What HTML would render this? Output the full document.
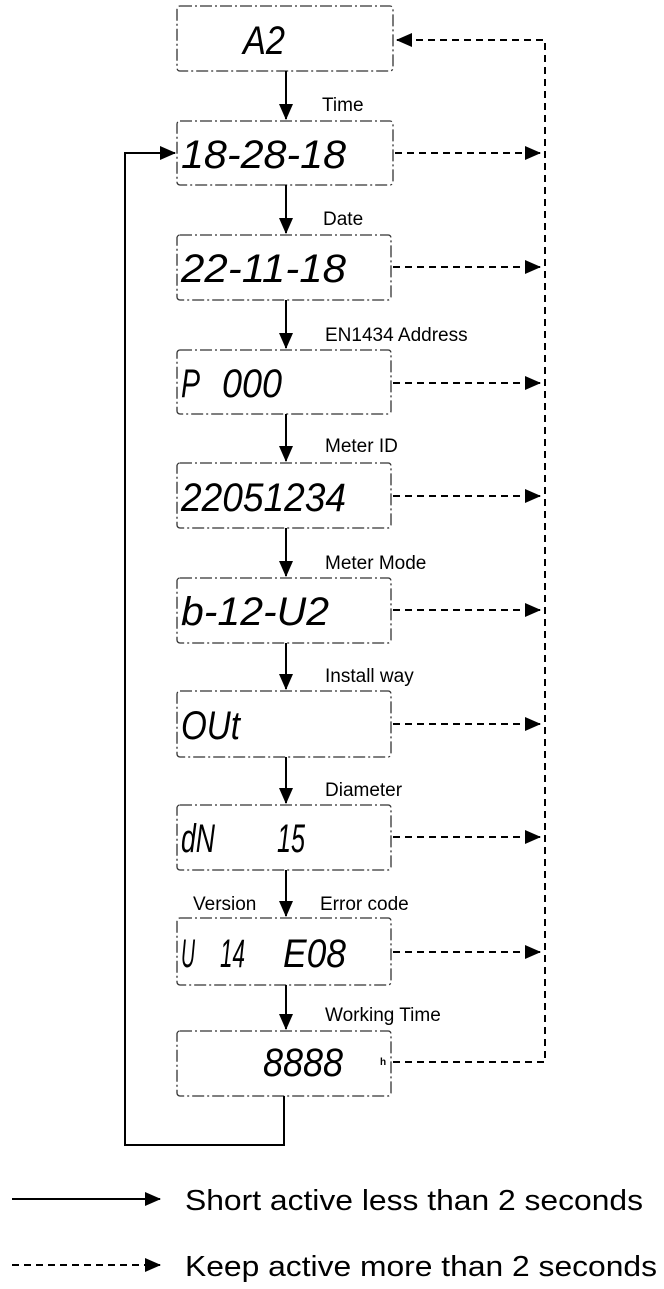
<!DOCTYPE html>
<html><head><style>
body{margin:0;background:#fff;width:664px;height:1289px;overflow:hidden;font-family:"Liberation Sans",Arial,sans-serif}
svg{position:absolute;left:0;top:0}
.lcd{font-family:"Liberation Sans Narrow","Liberation Sans",sans-serif;font-style:italic;font-size:40px;fill:#000}
.lbl{font-size:19px;fill:#000}
</style></head><body>
<svg width="664" height="1289" viewBox="0 0 664 1289" xmlns="http://www.w3.org/2000/svg">
<defs>
<marker id="b" markerWidth="16" markerHeight="14" refX="15" refY="7" orient="auto" markerUnits="userSpaceOnUse"><path d="M0,0 L16,7 L0,14z" fill="#000"/></marker>
</defs>
<g fill="none" stroke="#333" stroke-width="1.3" stroke-dasharray="12,3,2,3">
<rect x="177" y="6" width="216" height="65" rx="3"/>
<rect x="177" y="121" width="216" height="64" rx="3"/>
<rect x="177" y="235" width="214" height="65" rx="3"/>
<rect x="177" y="350" width="214" height="64" rx="3"/>
<rect x="177" y="463" width="214" height="65" rx="3"/>
<rect x="177" y="578" width="214" height="65" rx="3"/>
<rect x="177" y="691" width="214" height="66" rx="3"/>
<rect x="177" y="805" width="214" height="65" rx="3"/>
<rect x="177" y="918" width="214" height="67" rx="3"/>
<rect x="177" y="1031" width="214" height="65" rx="3"/>
</g>
<g stroke="#000" stroke-width="2" fill="none">
<line x1="286" y1="71" x2="286" y2="119" marker-end="url(#b)"/>
<line x1="286" y1="185" x2="286" y2="233" marker-end="url(#b)"/>
<line x1="286" y1="300" x2="286" y2="348" marker-end="url(#b)"/>
<line x1="286" y1="414" x2="286" y2="461" marker-end="url(#b)"/>
<line x1="286" y1="528" x2="286" y2="576" marker-end="url(#b)"/>
<line x1="286" y1="643" x2="286" y2="689" marker-end="url(#b)"/>
<line x1="286" y1="757" x2="286" y2="803" marker-end="url(#b)"/>
<line x1="286" y1="870" x2="286" y2="916" marker-end="url(#b)"/>
<line x1="286" y1="985" x2="286" y2="1029" marker-end="url(#b)"/>
<polyline points="284,1096 284,1145 125,1145 125,153 175,153" marker-end="url(#b)"/>
<line x1="12" y1="1199" x2="160" y2="1199" marker-end="url(#b)"/>
</g>
<g stroke="#000" stroke-width="2" fill="none" stroke-dasharray="7,5">
<polyline points="393,1062 545,1062 545,40 397,40" marker-end="url(#b)"/>
<line x1="395" y1="153" x2="540" y2="153" marker-end="url(#b)"/>
<line x1="393" y1="267" x2="540" y2="267" marker-end="url(#b)"/>
<line x1="393" y1="383" x2="540" y2="383" marker-end="url(#b)"/>
<line x1="393" y1="496" x2="540" y2="496" marker-end="url(#b)"/>
<line x1="393" y1="610" x2="540" y2="610" marker-end="url(#b)"/>
<line x1="393" y1="724" x2="540" y2="724" marker-end="url(#b)"/>
<line x1="393" y1="837" x2="540" y2="837" marker-end="url(#b)"/>
<line x1="393" y1="952" x2="540" y2="952" marker-end="url(#b)"/>
<line x1="12" y1="1265" x2="160" y2="1265" marker-end="url(#b)"/>
</g>
<g class="lcd" lengthAdjust="spacingAndGlyphs">
<text x="243" y="54" textLength="42" lengthAdjust="spacingAndGlyphs">A2</text>
<text x="181" y="168" textLength="165" lengthAdjust="spacingAndGlyphs">18-28-18</text>
<text x="181" y="282" textLength="165" lengthAdjust="spacingAndGlyphs">22-11-18</text>
<text x="181" y="397" textLength="19" lengthAdjust="spacingAndGlyphs">P</text>
<text x="222" y="397" textLength="60" lengthAdjust="spacingAndGlyphs">000</text>
<text x="181" y="511" textLength="165" lengthAdjust="spacingAndGlyphs">22051234</text>
<text x="181" y="625" textLength="148" lengthAdjust="spacingAndGlyphs">b-12-U2</text>
<text x="181" y="739" textLength="59" lengthAdjust="spacingAndGlyphs">OUt</text>
<text x="181" y="852" textLength="34" lengthAdjust="spacingAndGlyphs">dN</text>
<text x="277" y="852" textLength="28" lengthAdjust="spacingAndGlyphs">15</text>
<text x="181" y="967" textLength="14" lengthAdjust="spacingAndGlyphs">U</text>
<text x="220" y="967" textLength="25" lengthAdjust="spacingAndGlyphs">14</text>
<text x="283" y="967" textLength="63" lengthAdjust="spacingAndGlyphs">E08</text>
<text x="263" y="1076" textLength="80" lengthAdjust="spacingAndGlyphs">8888</text>
</g>
<text x="380" y="1065" font-size="10" font-weight="bold">h</text>
<g class="lbl">
<text x="322" y="111">Time</text>
<text x="323" y="225">Date</text>
<text x="325" y="341">EN1434 Address</text>
<text x="325" y="452">Meter ID</text>
<text x="325" y="569">Meter Mode</text>
<text x="325" y="682">Install way</text>
<text x="325" y="796">Diameter</text>
<text x="193" y="910">Version</text>
<text x="320" y="910">Error code</text>
<text x="325" y="1021">Working Time</text>
</g>
<text x="185" y="1210" font-size="29" textLength="458" lengthAdjust="spacingAndGlyphs">Short active less than 2 seconds</text>
<text x="185" y="1276" font-size="29" textLength="472" lengthAdjust="spacingAndGlyphs">Keep active more than 2 seconds</text>
</svg>
</body></html>
